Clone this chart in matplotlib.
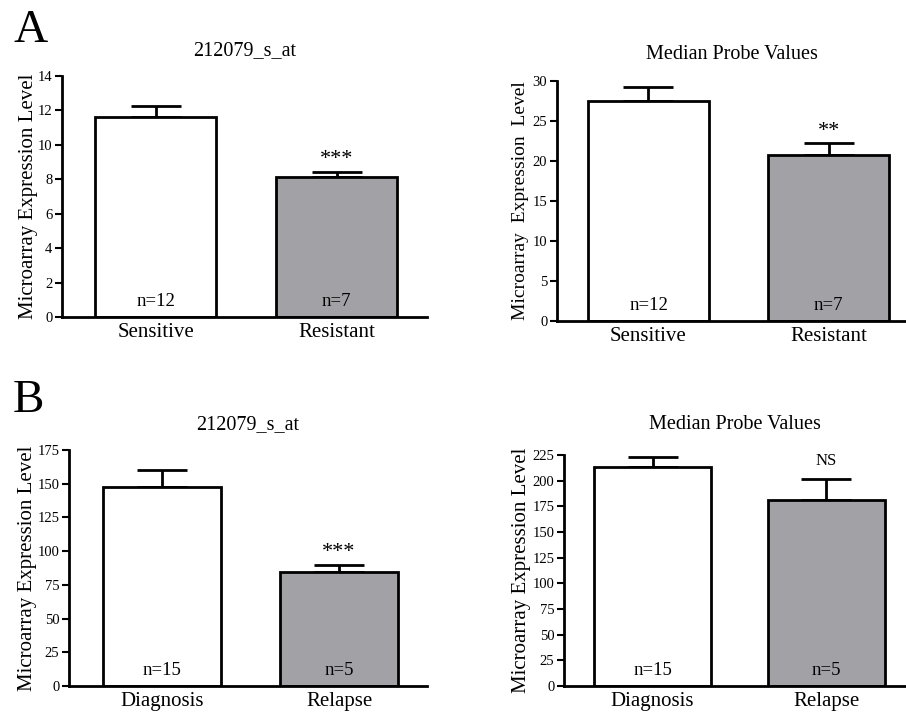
import numpy as np
import matplotlib
matplotlib.use("Agg")
import matplotlib.pyplot as plt

plt.rcParams['font.family'] = ['Liberation Serif', 'DejaVu Serif']

# data
groups_a = ['Sensitive', 'Resistant']
groups_b = ['Diagnosis', 'Relapse']
n_a = ['n=12', 'n=7']
n_b = ['n=15', 'n=5']

a1_mean = [11.6, 8.13]
a1_err = [0.66, 0.31]
a1_sig = '***'

a2_mean = [27.5, 20.7]
a2_err = [1.8, 1.5]
a2_sig = '**'

b1_mean = [147.3, 84.5]
b1_err = [13.1, 5.5]
b1_sig = '***'

b2_mean = [213.0, 181.2]
b2_err = [9.8, 20.4]
b2_sig = 'NS'

W, H = 906, 713
fig = plt.figure(figsize=(W / 100, H / 100), dpi=100)
gray = '#a2a2a6'


def px_axes(left, right, top, bottom):
    return fig.add_axes([left / W, (H - bottom) / H, (right - left) / W, (bottom - top) / H])


def panel(ax, groups, means, errs, ns, sig, title, ylim, yticks, xlim, width,
          ylabel, label_x, title_pad, sig_off, label_size=15):
    x = np.arange(len(groups))
    ax.bar(x, means, width=width, color=['white', gray], edgecolor='black',
           linewidth=2, zorder=2)
    ax.errorbar(x, means, yerr=[np.zeros(len(errs)), errs], fmt='none',
                ecolor='black', elinewidth=2, capsize=18, capthick=2, zorder=1)
    ax.set_xlim(*xlim)
    ax.set_ylim(*ylim)
    ax.set_yticks(yticks)
    ax.set_xticks(x)
    ax.set_xticklabels(groups, fontsize=15)
    ax.tick_params(axis='x', length=0, pad=4)
    ax.tick_params(axis='y', length=5, width=1.5, labelsize=10.5, pad=2)
    for s in ['top', 'right']:
        ax.spines[s].set_visible(False)
    for s in ['left', 'bottom']:
        ax.spines[s].set_linewidth(2)
    ax.set_ylabel(ylabel, fontsize=label_size, va='center')
    ax.yaxis.set_label_coords(label_x, 0.5)
    ax.set_title(title, fontsize=14.5, pad=title_pad)
    for i in x:
        ax.annotate(ns[i], xy=(i, 0), xytext=(0, 5), textcoords='offset points',
                    ha='center', va='bottom', fontsize=13.5)
    ax.annotate(sig, xy=(1, means[1] + errs[1]), xytext=(0, sig_off),
                textcoords='offset points', ha='center', va='bottom',
                fontsize=16 if sig != 'NS' else 12)


ax1 = px_axes(62, 427, 76, 317)
panel(ax1, groups_a, a1_mean, a1_err, n_a, a1_sig, '212079_s_at', (0, 14),
      np.arange(0, 15, 2), (-0.517, 1.5), 0.668,
      'Microarray Expression Level', -0.093, 15, 2)

ax2 = px_axes(557, 906, 81, 321)
panel(ax2, groups_a, a2_mean, a2_err, n_a, a2_sig, 'Median Probe Values', (0, 30),
      np.arange(0, 31, 5), (-0.508, 1.43), 0.672,
      'Microarray  Expression  Level', -0.106, 16, 2, label_size=14)

ax3 = px_axes(69, 427, 450, 686)
panel(ax3, groups_b, b1_mean, b1_err, n_b, b1_sig, '212079_s_at', (0, 175),
      np.arange(0, 176, 25), (-0.525, 1.497), 0.667,
      'Microarray Expression Level', -0.115, 15, 2)

ax4 = px_axes(564, 906, 455, 686)
panel(ax4, groups_b, b2_mean, b2_err, n_b, b2_sig, 'Median Probe Values', (0, 225),
      np.arange(0, 226, 25), (-0.51, 1.46), 0.674,
      'Microarray Expression Level', -0.123, 19, 7)

fig.text(13 / W, 1 - 10 / H, 'A', fontsize=34, va='top', ha='left')
fig.text(13 / W, 1 - 380 / H, 'B', fontsize=34, va='top', ha='left')

fig.savefig('out.png', dpi=100)
